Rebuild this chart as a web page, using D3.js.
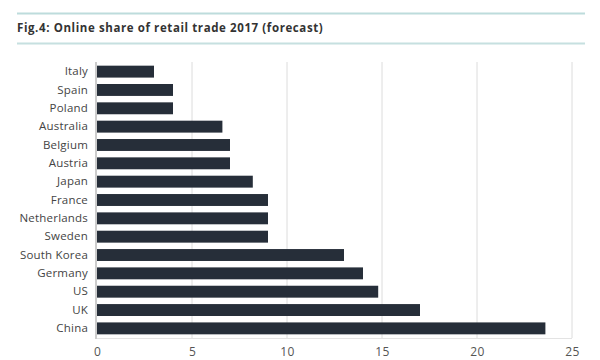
<!DOCTYPE html>
<html><head><meta charset="utf-8">
<script src="https://cdn.jsdelivr.net/npm/d3@7"></script>
<style>body{margin:0;background:#fff}svg{display:block}</style>
</head><body><svg id="c" width="600" height="360"></svg>
<script>
const categories = ["Italy","Spain","Poland","Australia","Belgium","Austria","Japan","France","Netherlands","Sweden","South Korea","Germany","US","UK","China"];
const values = [3, 4, 4, 6.6, 7, 7, 8.2, 9, 9, 9, 13, 14, 14.8, 17, 23.6];
const xTicks = [0, 5, 10, 15, 20, 25];
const title = "Fig.4: Online share of retail trade 2017 (forecast)";

const FONT = "'Open Sans', 'DejaVu Sans', sans-serif";
const svg = d3.select("#c");
const m = {l: 97, r: 28, t: 62, b: 22};
const W = 600, H = 360;
const x = d3.scaleLinear().domain([0, 25]).range([m.l, W - m.r]);
const y = d3.scaleBand().domain(categories).range([m.t, H - m.b]).paddingInner(0.35).paddingOuter(0.2);

// header lines and title
svg.append("line").attr("x1",17).attr("x2",585).attr("y1",13.5).attr("y2",13.5).attr("stroke","#bddcdc").attr("stroke-width",2);
svg.append("line").attr("x1",17).attr("x2",585).attr("y1",43.5).attr("y2",43.5).attr("stroke","#c6e0e0").attr("stroke-width",2);
svg.append("text").attr("x",17).attr("y",32).attr("font-family",FONT).attr("font-weight","bold").attr("font-size",11.5).attr("letter-spacing",0.6).attr("fill","#333").text(title);

// grid
const g = svg.append("g");
g.selectAll("line.grid").data(xTicks.slice(1)).join("line")
  .attr("x1", d => x(d)).attr("x2", d => x(d))
  .attr("y1", m.t).attr("y2", H - m.b).attr("stroke", "#dcdcdc").attr("stroke-width", 1);
// bottom line
g.append("line").attr("x1", x(0)).attr("x2", x(25)).attr("y1", H - m.b + 0.5).attr("y2", H - m.b + 0.5).attr("stroke","#e3e3e3");

// bars
g.selectAll("rect.bar").data(values).join("rect")
  .attr("x", x(0)).attr("y", (d,i) => y(categories[i]))
  .attr("width", d => x(d) - x(0)).attr("height", y.bandwidth())
  .attr("fill", "#262e39");

// left axis line
g.append("line").attr("x1", x(0) - 1).attr("x2", x(0) - 1).attr("y1", m.t).attr("y2", H - m.b + 1).attr("stroke","#cccccc").attr("stroke-width",2);

// y axis labels
const ya = svg.append("g").attr("transform", `translate(${x(0) - 9},0)`)
  .call(d3.axisLeft(y).tickSize(0).tickPadding(0));
ya.select(".domain").remove();
ya.selectAll("text").attr("font-family",FONT).attr("font-size",11.5).attr("letter-spacing",0.2).attr("fill","#444");

// x axis labels
const xa = svg.append("g").attr("transform", `translate(0,${H - m.b})`)
  .call(d3.axisBottom(x).tickValues(xTicks).tickSize(0).tickPadding(9).tickFormat(d3.format("d")));
xa.select(".domain").remove();
xa.selectAll("text").attr("font-family",FONT).attr("font-size",12).attr("letter-spacing",0.3).attr("fill","#555");
</script></body></html>
